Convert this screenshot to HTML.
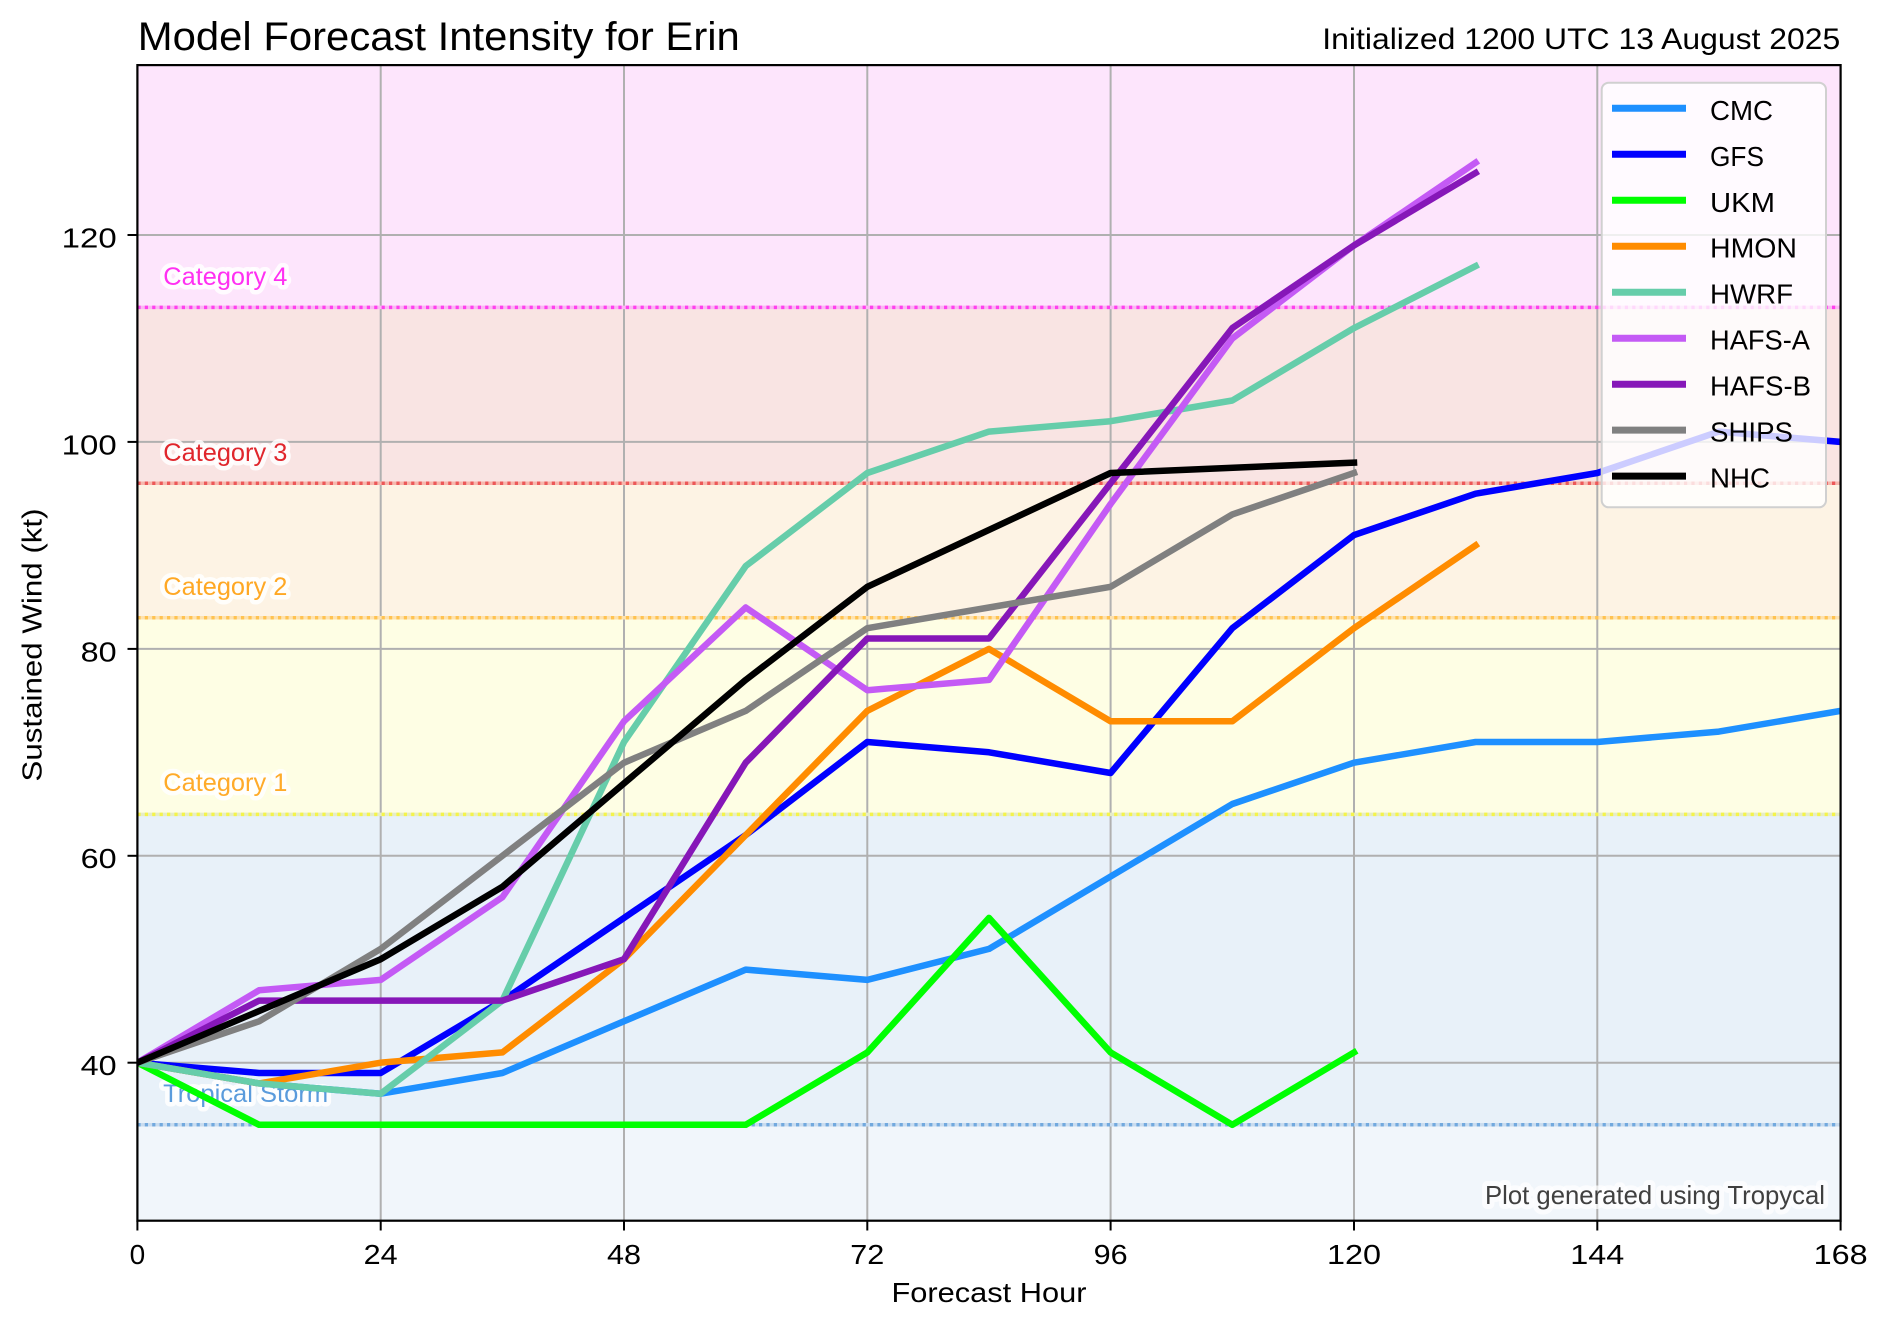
<!DOCTYPE html>
<html>
<head>
<meta charset="utf-8">
<style>
  html, body { margin: 0; padding: 0; background: #ffffff; }
  svg { display: block; }
  text { font-family: "Liberation Sans", "DejaVu Sans", sans-serif; }
</style>
</head>
<body>
<svg width="1890" height="1328" viewBox="0 0 1890 1328" xmlns="http://www.w3.org/2000/svg">
  <defs>
    <clipPath id="plotclip">
      <rect x="137.4" y="65.1" width="1703.2" height="1155.6"/>
    </clipPath>
  </defs>

  <!-- Background -->
  <rect x="0" y="0" width="1890" height="1328" fill="#ffffff"/>

  <!-- Category fills -->
  <rect x="137.4" y="65.1" width="1703.2" height="242.3" fill="#fde5fc"/>
  <rect x="137.4" y="307.4" width="1703.2" height="175.9" fill="#f9e4e3"/>
  <rect x="137.4" y="483.3" width="1703.2" height="134.5" fill="#fdf3e4"/>
  <rect x="137.4" y="617.8" width="1703.2" height="196.6" fill="#fefee4"/>
  <rect x="137.4" y="814.4" width="1703.2" height="310.4" fill="#e8f1f9"/>
  <rect x="137.4" y="1124.8" width="1703.2" height="95.9" fill="#f1f6fb"/>

  <!-- Grid -->
  <g stroke="#b0b0b0" stroke-width="2" fill="none">
    <line x1="380.7" y1="65.1" x2="380.7" y2="1220.7"/>
    <line x1="624.0" y1="65.1" x2="624.0" y2="1220.7"/>
    <line x1="867.3" y1="65.1" x2="867.3" y2="1220.7"/>
    <line x1="1110.6" y1="65.1" x2="1110.6" y2="1220.7"/>
    <line x1="1354.0" y1="65.1" x2="1354.0" y2="1220.7"/>
    <line x1="1597.3" y1="65.1" x2="1597.3" y2="1220.7"/>
    <line x1="137.4" y1="1062.7" x2="1840.6" y2="1062.7"/>
    <line x1="137.4" y1="855.8" x2="1840.6" y2="855.8"/>
    <line x1="137.4" y1="648.9" x2="1840.6" y2="648.9"/>
    <line x1="137.4" y1="441.9" x2="1840.6" y2="441.9"/>
    <line x1="137.4" y1="235.0" x2="1840.6" y2="235.0"/>
  </g>

  <!-- Category threshold lines (faint solid + dots) -->
  <g fill="none" stroke-width="3.5">
    <line x1="137.4" y1="1124.8" x2="1840.6" y2="1124.8" stroke="#c9dcef"/>
    <line x1="137.4" y1="1124.8" x2="1840.6" y2="1124.8" stroke="#72a9de" stroke-dasharray="3.2 4.2"/>
    <line x1="137.4" y1="814.4" x2="1840.6" y2="814.4" stroke="#e6ecc8"/>
    <line x1="137.4" y1="814.4" x2="1840.6" y2="814.4" stroke="#f4f44a" stroke-dasharray="3.2 4.2"/>
    <line x1="137.4" y1="617.8" x2="1840.6" y2="617.8" stroke="#fde2b0"/>
    <line x1="137.4" y1="617.8" x2="1840.6" y2="617.8" stroke="#ffc250" stroke-dasharray="3.2 4.2"/>
    <line x1="137.4" y1="483.3" x2="1840.6" y2="483.3" stroke="#f6b8ae"/>
    <line x1="137.4" y1="483.3" x2="1840.6" y2="483.3" stroke="#ec5858" stroke-dasharray="3.2 4.2"/>
    <line x1="137.4" y1="307.4" x2="1840.6" y2="307.4" stroke="#fbb6f4"/>
    <line x1="137.4" y1="307.4" x2="1840.6" y2="307.4" stroke="#ff40ee" stroke-dasharray="3.2 4.2"/>
  </g>

  <!-- Category labels -->
  <g font-size="25" stroke="#ffffff" stroke-width="9" stroke-linejoin="round" paint-order="stroke" stroke-opacity="0.85">
    <text x="163.3" y="285" fill="#ff30f2" textLength="124" lengthAdjust="spacingAndGlyphs">Category 4</text>
    <text x="163.3" y="461" fill="#e0262c" textLength="124" lengthAdjust="spacingAndGlyphs">Category 3</text>
    <text x="163.3" y="595" fill="#ffa824" textLength="124" lengthAdjust="spacingAndGlyphs">Category 2</text>
    <text x="163.3" y="791" fill="#ffab2a" textLength="124" lengthAdjust="spacingAndGlyphs">Category 1</text>
    <text x="163.1" y="1102" fill="#5a9bdc" textLength="165" lengthAdjust="spacingAndGlyphs">Tropical Storm</text>
  </g>

  <!-- Data lines -->
  <g clip-path="url(#plotclip)" fill="none" stroke-width="6.5" stroke-linejoin="round" stroke-linecap="square">
    <!-- CMC -->
    <polyline stroke="#1e90ff" points="137.4,1062.7 259.1,1083.4 380.7,1093.7 502.4,1073.0 624.0,1021.3 745.7,969.6 867.3,979.9 989.0,948.9 1110.6,876.5 1232.3,804.0 1354.0,762.7 1475.6,742.0 1597.3,742.0 1718.9,731.6 1840.6,710.9"/>
    <!-- GFS -->
    <polyline stroke="#0000ff" points="137.4,1062.7 259.1,1073.0 380.7,1073.0 502.4,1000.6 624.0,917.9 745.7,835.1 867.3,742.0 989.0,752.3 1110.6,773.0 1232.3,628.2 1354.0,535.1 1475.6,493.7 1597.3,473.0 1718.9,431.6 1840.6,441.9"/>
    <!-- UKM -->
    <polyline stroke="#00ff00" points="137.4,1062.7 259.1,1124.8 380.7,1124.8 502.4,1124.8 624.0,1124.8 745.7,1124.8 867.3,1052.4 989.0,917.9 1110.6,1052.4 1232.3,1124.8 1354.0,1052.4"/>
    <!-- HMON -->
    <polyline stroke="#ff8c00" points="137.4,1062.7 259.1,1083.4 380.7,1062.7 502.4,1052.4 624.0,959.2 745.7,835.1 867.3,710.9 989.0,648.9 1110.6,721.3 1232.3,721.3 1354.0,628.2 1475.6,545.4"/>
    <!-- HWRF -->
    <polyline stroke="#66cdaa" points="137.4,1062.7 259.1,1083.4 380.7,1093.7 502.4,1000.6 624.0,742.0 745.7,566.1 867.3,473.0 989.0,431.6 1110.6,421.2 1232.3,400.5 1354.0,328.1 1475.6,266.1"/>
    <!-- HAFS-A -->
    <polyline stroke="#c45af5" points="137.4,1062.7 259.1,990.3 380.7,979.9 502.4,897.2 624.0,721.3 745.7,607.5 867.3,690.2 989.0,679.9 1110.6,504.0 1232.3,338.5 1354.0,245.4 1475.6,162.6"/>
    <!-- HAFS-B -->
    <polyline stroke="#8617b8" points="137.4,1062.7 259.1,1000.6 380.7,1000.6 502.4,1000.6 624.0,959.2 745.7,762.7 867.3,638.5 989.0,638.5 1110.6,483.3 1232.3,328.1 1354.0,245.4 1475.6,172.9"/>
    <!-- SHIPS -->
    <polyline stroke="#808080" points="137.4,1062.7 259.1,1021.3 380.7,948.9 502.4,855.8 624.0,762.7 745.7,710.9 867.3,628.2 989.0,607.5 1110.6,586.8 1232.3,514.4 1354.0,473.0"/>
    <!-- NHC -->
    <polyline stroke="#000000" points="137.4,1062.7 259.1,1011.0 380.7,959.2 502.4,886.8 624.0,783.4 745.7,679.9 867.3,586.8 1110.6,473.0 1354.0,462.6"/>
  </g>

  <!-- Plot generated using Tropycal -->
  <text x="1485" y="1204" font-size="26" fill="#404040" stroke="#ffffff" stroke-width="10" stroke-linejoin="round" stroke-opacity="0.7" paint-order="stroke" textLength="340" lengthAdjust="spacingAndGlyphs">Plot generated using Tropycal</text>

  <!-- Legend -->
  <rect x="1601.7" y="82.7" width="224.3" height="424.6" rx="7" ry="7" fill="#ffffff" fill-opacity="0.8" stroke="#d0d0d0" stroke-width="2"/>
  <g stroke-width="7" fill="none">
    <line x1="1612" y1="108.3" x2="1686" y2="108.3" stroke="#1e90ff"/>
    <line x1="1612" y1="154.3" x2="1686" y2="154.3" stroke="#0000ff"/>
    <line x1="1612" y1="200.3" x2="1686" y2="200.3" stroke="#00ff00"/>
    <line x1="1612" y1="246.2" x2="1686" y2="246.2" stroke="#ff8c00"/>
    <line x1="1612" y1="292.2" x2="1686" y2="292.2" stroke="#66cdaa"/>
    <line x1="1612" y1="338.2" x2="1686" y2="338.2" stroke="#c45af5"/>
    <line x1="1612" y1="384.2" x2="1686" y2="384.2" stroke="#8617b8"/>
    <line x1="1612" y1="430.1" x2="1686" y2="430.1" stroke="#808080"/>
    <line x1="1612" y1="476.1" x2="1686" y2="476.1" stroke="#000000"/>
  </g>
  <g font-size="28" fill="#000000">
    <text x="1710" y="119.8" textLength="63" lengthAdjust="spacingAndGlyphs">CMC</text>
    <text x="1710" y="165.8" textLength="54" lengthAdjust="spacingAndGlyphs">GFS</text>
    <text x="1710" y="211.8" textLength="65" lengthAdjust="spacingAndGlyphs">UKM</text>
    <text x="1710" y="257.7" textLength="87" lengthAdjust="spacingAndGlyphs">HMON</text>
    <text x="1710" y="303.7" textLength="83" lengthAdjust="spacingAndGlyphs">HWRF</text>
    <text x="1710" y="349.7" textLength="100" lengthAdjust="spacingAndGlyphs">HAFS-A</text>
    <text x="1710" y="395.7" textLength="101" lengthAdjust="spacingAndGlyphs">HAFS-B</text>
    <text x="1710" y="441.6" textLength="83" lengthAdjust="spacingAndGlyphs">SHIPS</text>
    <text x="1710" y="487.6" textLength="60" lengthAdjust="spacingAndGlyphs">NHC</text>
  </g>

  <!-- Spines -->
  <rect x="137.4" y="65.1" width="1703.2" height="1155.6" fill="none" stroke="#000000" stroke-width="2.2"/>

  <!-- Ticks -->
  <g stroke="#000000" stroke-width="2">
    <line x1="127.5" y1="1062.7" x2="137.4" y2="1062.7"/>
    <line x1="127.5" y1="855.8" x2="137.4" y2="855.8"/>
    <line x1="127.5" y1="648.9" x2="137.4" y2="648.9"/>
    <line x1="127.5" y1="441.9" x2="137.4" y2="441.9"/>
    <line x1="127.5" y1="235.0" x2="137.4" y2="235.0"/>
    <line x1="137.4" y1="1220.7" x2="137.4" y2="1230.5"/>
    <line x1="380.7" y1="1220.7" x2="380.7" y2="1230.5"/>
    <line x1="624.0" y1="1220.7" x2="624.0" y2="1230.5"/>
    <line x1="867.3" y1="1220.7" x2="867.3" y2="1230.5"/>
    <line x1="1110.6" y1="1220.7" x2="1110.6" y2="1230.5"/>
    <line x1="1354.0" y1="1220.7" x2="1354.0" y2="1230.5"/>
    <line x1="1597.3" y1="1220.7" x2="1597.3" y2="1230.5"/>
    <line x1="1840.6" y1="1220.7" x2="1840.6" y2="1230.5"/>
  </g>

  <!-- Y tick labels -->
  <g font-size="28" fill="#000000" text-anchor="end">
    <text x="116.7" y="1075.1" textLength="36" lengthAdjust="spacingAndGlyphs">40</text>
    <text x="116.7" y="868.2" textLength="36" lengthAdjust="spacingAndGlyphs">60</text>
    <text x="116.7" y="661.3" textLength="36" lengthAdjust="spacingAndGlyphs">80</text>
    <text x="116.7" y="454.3" textLength="55" lengthAdjust="spacingAndGlyphs">100</text>
    <text x="116.7" y="247.4" textLength="55" lengthAdjust="spacingAndGlyphs">120</text>
  </g>

  <!-- X tick labels -->
  <g font-size="28" fill="#000000" text-anchor="middle">
    <text x="137.4" y="1264">0</text>
    <text x="380.7" y="1264" textLength="34" lengthAdjust="spacingAndGlyphs">24</text>
    <text x="624.0" y="1264" textLength="34" lengthAdjust="spacingAndGlyphs">48</text>
    <text x="867.3" y="1264" textLength="34" lengthAdjust="spacingAndGlyphs">72</text>
    <text x="1110.6" y="1264" textLength="34" lengthAdjust="spacingAndGlyphs">96</text>
    <text x="1354.0" y="1264" textLength="54" lengthAdjust="spacingAndGlyphs">120</text>
    <text x="1597.3" y="1264" textLength="54" lengthAdjust="spacingAndGlyphs">144</text>
    <text x="1840.6" y="1264" textLength="54" lengthAdjust="spacingAndGlyphs">168</text>
  </g>

  <!-- Axis labels -->
  <text x="989" y="1302" font-size="28" fill="#000000" text-anchor="middle" textLength="195" lengthAdjust="spacingAndGlyphs">Forecast Hour</text>
  <text x="0" y="0" font-size="28" fill="#000000" text-anchor="middle" transform="translate(41.5,645) rotate(-90)" textLength="273" lengthAdjust="spacingAndGlyphs">Sustained Wind (kt)</text>

  <!-- Titles -->
  <text x="137.8" y="50" font-size="40" fill="#000000" textLength="602" lengthAdjust="spacingAndGlyphs">Model Forecast Intensity for Erin</text>
  <text x="1840.3" y="49" font-size="30" fill="#000000" text-anchor="end" textLength="518" lengthAdjust="spacingAndGlyphs">Initialized 1200 UTC 13 August 2025</text>
</svg>
</body>
</html>
